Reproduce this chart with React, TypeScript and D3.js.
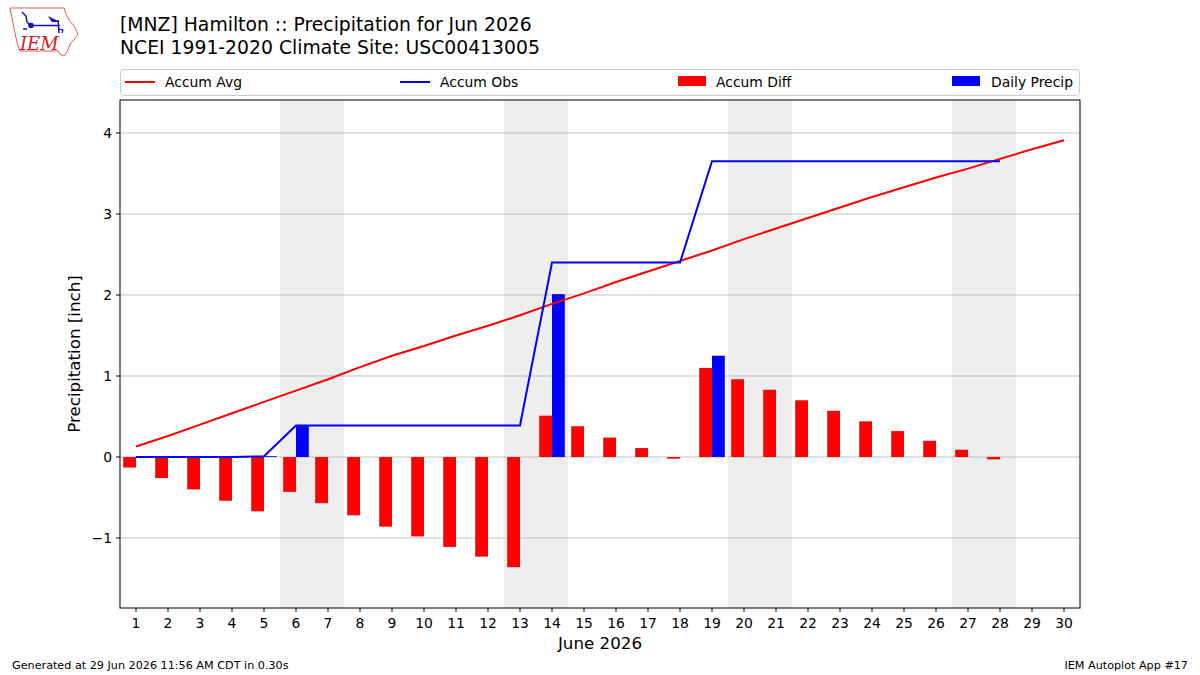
import React from "react";
import * as d3 from "d3";

// Day-of-month values for June 2026
const days: number[] = d3.range(1, 31);
const accumAvg: number[] = [
  0.13, 0.26, 0.40, 0.54, 0.68, 0.82, 0.96, 1.11, 1.25, 1.37,
  1.50, 1.62, 1.75, 1.89, 2.02, 2.16, 2.29, 2.42, 2.55, 2.69,
  2.82, 2.95, 3.08, 3.21, 3.33, 3.45, 3.56, 3.68, 3.80, 3.91,
];
const dailyPrecip: number[] = [
  0, 0, 0, 0, 0.01, 0.38, 0, 0, 0, 0,
  0, 0, 0, 2.01, 0, 0, 0, 0, 1.25, 0,
  0, 0, 0, 0, 0, 0, 0, 0,
];
const accumObs: number[] = [
  0, 0, 0, 0, 0.01, 0.39, 0.39, 0.39, 0.39, 0.39,
  0.39, 0.39, 0.39, 2.40, 2.40, 2.40, 2.40, 2.40, 3.65, 3.65,
  3.65, 3.65, 3.65, 3.65, 3.65, 3.65, 3.65, 3.65,
];
const weekendStarts: number[] = [6, 13, 20, 27];
const yTicks: number[] = [-1, 0, 1, 2, 3, 4];

const W = 1200;
const H = 675;
const left = 120;
const right = 1080;
const top = 100;
const bottom = 608;
const FONT = "DejaVu Sans, sans-serif";

export default function App() {
  const x = d3.scaleLinear().domain([0.5, 30.5]).range([left, right]);
  const y = d3.scaleLinear().domain([-1.864, 4.407]).range([bottom, top]);
  const barW = x(0.4) - x(0);

  const accumDiff = accumObs.map((v, i) => v - accumAvg[i]);

  const line = d3
    .line<number>()
    .x((_, i) => x(days[i]))
    .y((d) => y(d));

  const fmt = (v: number) => (v < 0 ? "\u2212" + Math.abs(v) : String(v));

  return (
    <svg
      width={W}
      height={H}
      style={{ position: "absolute", left: 0, top: 0, background: "#fff" }}
      fontFamily={FONT}
    >
      {/* logo */}
      <g>
        <path
          d="M10,8 L64,8 L66,14 L69,20 L74,26 L78,34 L74,40 L70,44 L68,50 L64,56 L60,54 L58,51 L20,51 L18,46 L16,38 L14,28 L12,18 Z"
          fill="none"
          stroke="#e05a5a"
          strokeWidth={1}
        />
        <path d="M22,12 L26,16 L27,22 L30,25" fill="none" stroke="#1010c0" strokeWidth={1.5} />
        <circle cx={31} cy={25.5} r={2.8} fill="#1010c0" />
        <line x1={31} y1={25.5} x2={60} y2={25.5} stroke="#1010c0" strokeWidth={1.5} />
        <path d="M48,16 L56,20 L60,22 L52,22 Z" fill="#1010c0" />
        <path d="M58,20 L59,33" stroke="#1010c0" strokeWidth={1.5} />
        <path d="M59,29 L63,30 L62,33" fill="none" stroke="#1010c0" strokeWidth={1.2} />
        <circle cx={24} cy={29} r={1} fill="#1010c0" />
        <circle cx={26} cy={29} r={1} fill="#1010c0" />
        <text
          x={20}
          y={50}
          fontFamily="DejaVu Serif, serif"
          fontStyle="italic"
          fontSize={18}
          fill="#d42020"
        >
          IEM
        </text>
      </g>

      {/* titles */}
      <text x={120} y={31} fontSize={18.8} fill="#000">
        [MNZ] Hamilton :: Precipitation for Jun 2026
      </text>
      <text x={120} y={54} fontSize={18.8} fill="#000">
        NCEI 1991-2020 Climate Site: USC00413005
      </text>

      {/* legend */}
      <g fontSize={13.9}>
        <rect x={120.5} y={69.5} width={959} height={26} rx={3} fill="#fff" stroke="#cccccc" />
        <line x1={125} y1={82} x2={155} y2={82} stroke="red" strokeWidth={2} />
        <text x={165} y={87}>Accum Avg</text>
        <line x1={400} y1={82} x2={430} y2={82} stroke="blue" strokeWidth={2} />
        <text x={440} y={87}>Accum Obs</text>
        <rect x={678} y={76} width={28} height={10} fill="red" />
        <text x={716} y={87}>Accum Diff</text>
        <rect x={952} y={76} width={28} height={10} fill="blue" />
        <text x={991} y={87}>Daily Precip</text>
      </g>

      {/* weekend shading */}
      {weekendStarts.map((d) => (
        <rect
          key={d}
          x={x(d - 0.5)}
          y={top}
          width={x(d + 1.5) - x(d - 0.5)}
          height={bottom - top}
          fill="#eeeeee"
        />
      ))}

      {/* gridlines */}
      {yTicks.map((t) => (
        <line key={t} x1={left} x2={right} y1={y(t)} y2={y(t)} stroke="#b0b0b0" strokeWidth={0.8} />
      ))}

      {/* accumulated departure bars */}
      {accumDiff.map((v, i) => (
        <rect
          key={"d" + i}
          x={x(days[i] - 0.4)}
          y={Math.min(y(v), y(0))}
          width={barW}
          height={Math.abs(y(v) - y(0))}
          fill="red"
        />
      ))}

      {/* daily precipitation bars */}
      {dailyPrecip.map((v, i) =>
        v > 0 ? (
          <rect
            key={"p" + i}
            x={x(days[i])}
            y={y(v)}
            width={barW}
            height={y(0) - y(v)}
            fill="blue"
          />
        ) : null
      )}

      {/* accumulated lines */}
      <path d={line(accumAvg) || ""} fill="none" stroke="red" strokeWidth={2} />
      <path d={line(accumObs) || ""} fill="none" stroke="blue" strokeWidth={2} />

      {/* frame */}
      <rect x={left} y={top} width={right - left} height={bottom - top} fill="none" stroke="#000" strokeWidth={1} />

      {/* x axis */}
      <g fontSize={13.9}>
        {days.map((d) => (
          <g key={d}>
            <line x1={x(d)} x2={x(d)} y1={bottom} y2={bottom + 4} stroke="#000" />
            <text x={x(d)} y={bottom + 20} textAnchor="middle">
              {d}
            </text>
          </g>
        ))}
        <text x={(left + right) / 2} y={649} textAnchor="middle" fontSize={16.7}>
          June 2026
        </text>
      </g>

      {/* y axis */}
      <g fontSize={13.9}>
        {yTicks.map((t) => (
          <g key={t}>
            <line x1={left - 4} x2={left} y1={y(t)} y2={y(t)} stroke="#000" />
            <text x={left - 8} y={y(t) + 5} textAnchor="end">
              {fmt(t)}
            </text>
          </g>
        ))}
        <text
          transform={`translate(80,${(top + bottom) / 2}) rotate(-90)`}
          textAnchor="middle"
          fontSize={16.7}
        >
          Precipitation [inch]
        </text>
      </g>

      {/* footer */}
      <text x={12} y={669} fontSize={11.2}>
        Generated at 29 Jun 2026 11:56 AM CDT in 0.30s
      </text>
      <text x={1188} y={669} fontSize={11.2} textAnchor="end">
        IEM Autoplot App #17
      </text>
    </svg>
  );
}
